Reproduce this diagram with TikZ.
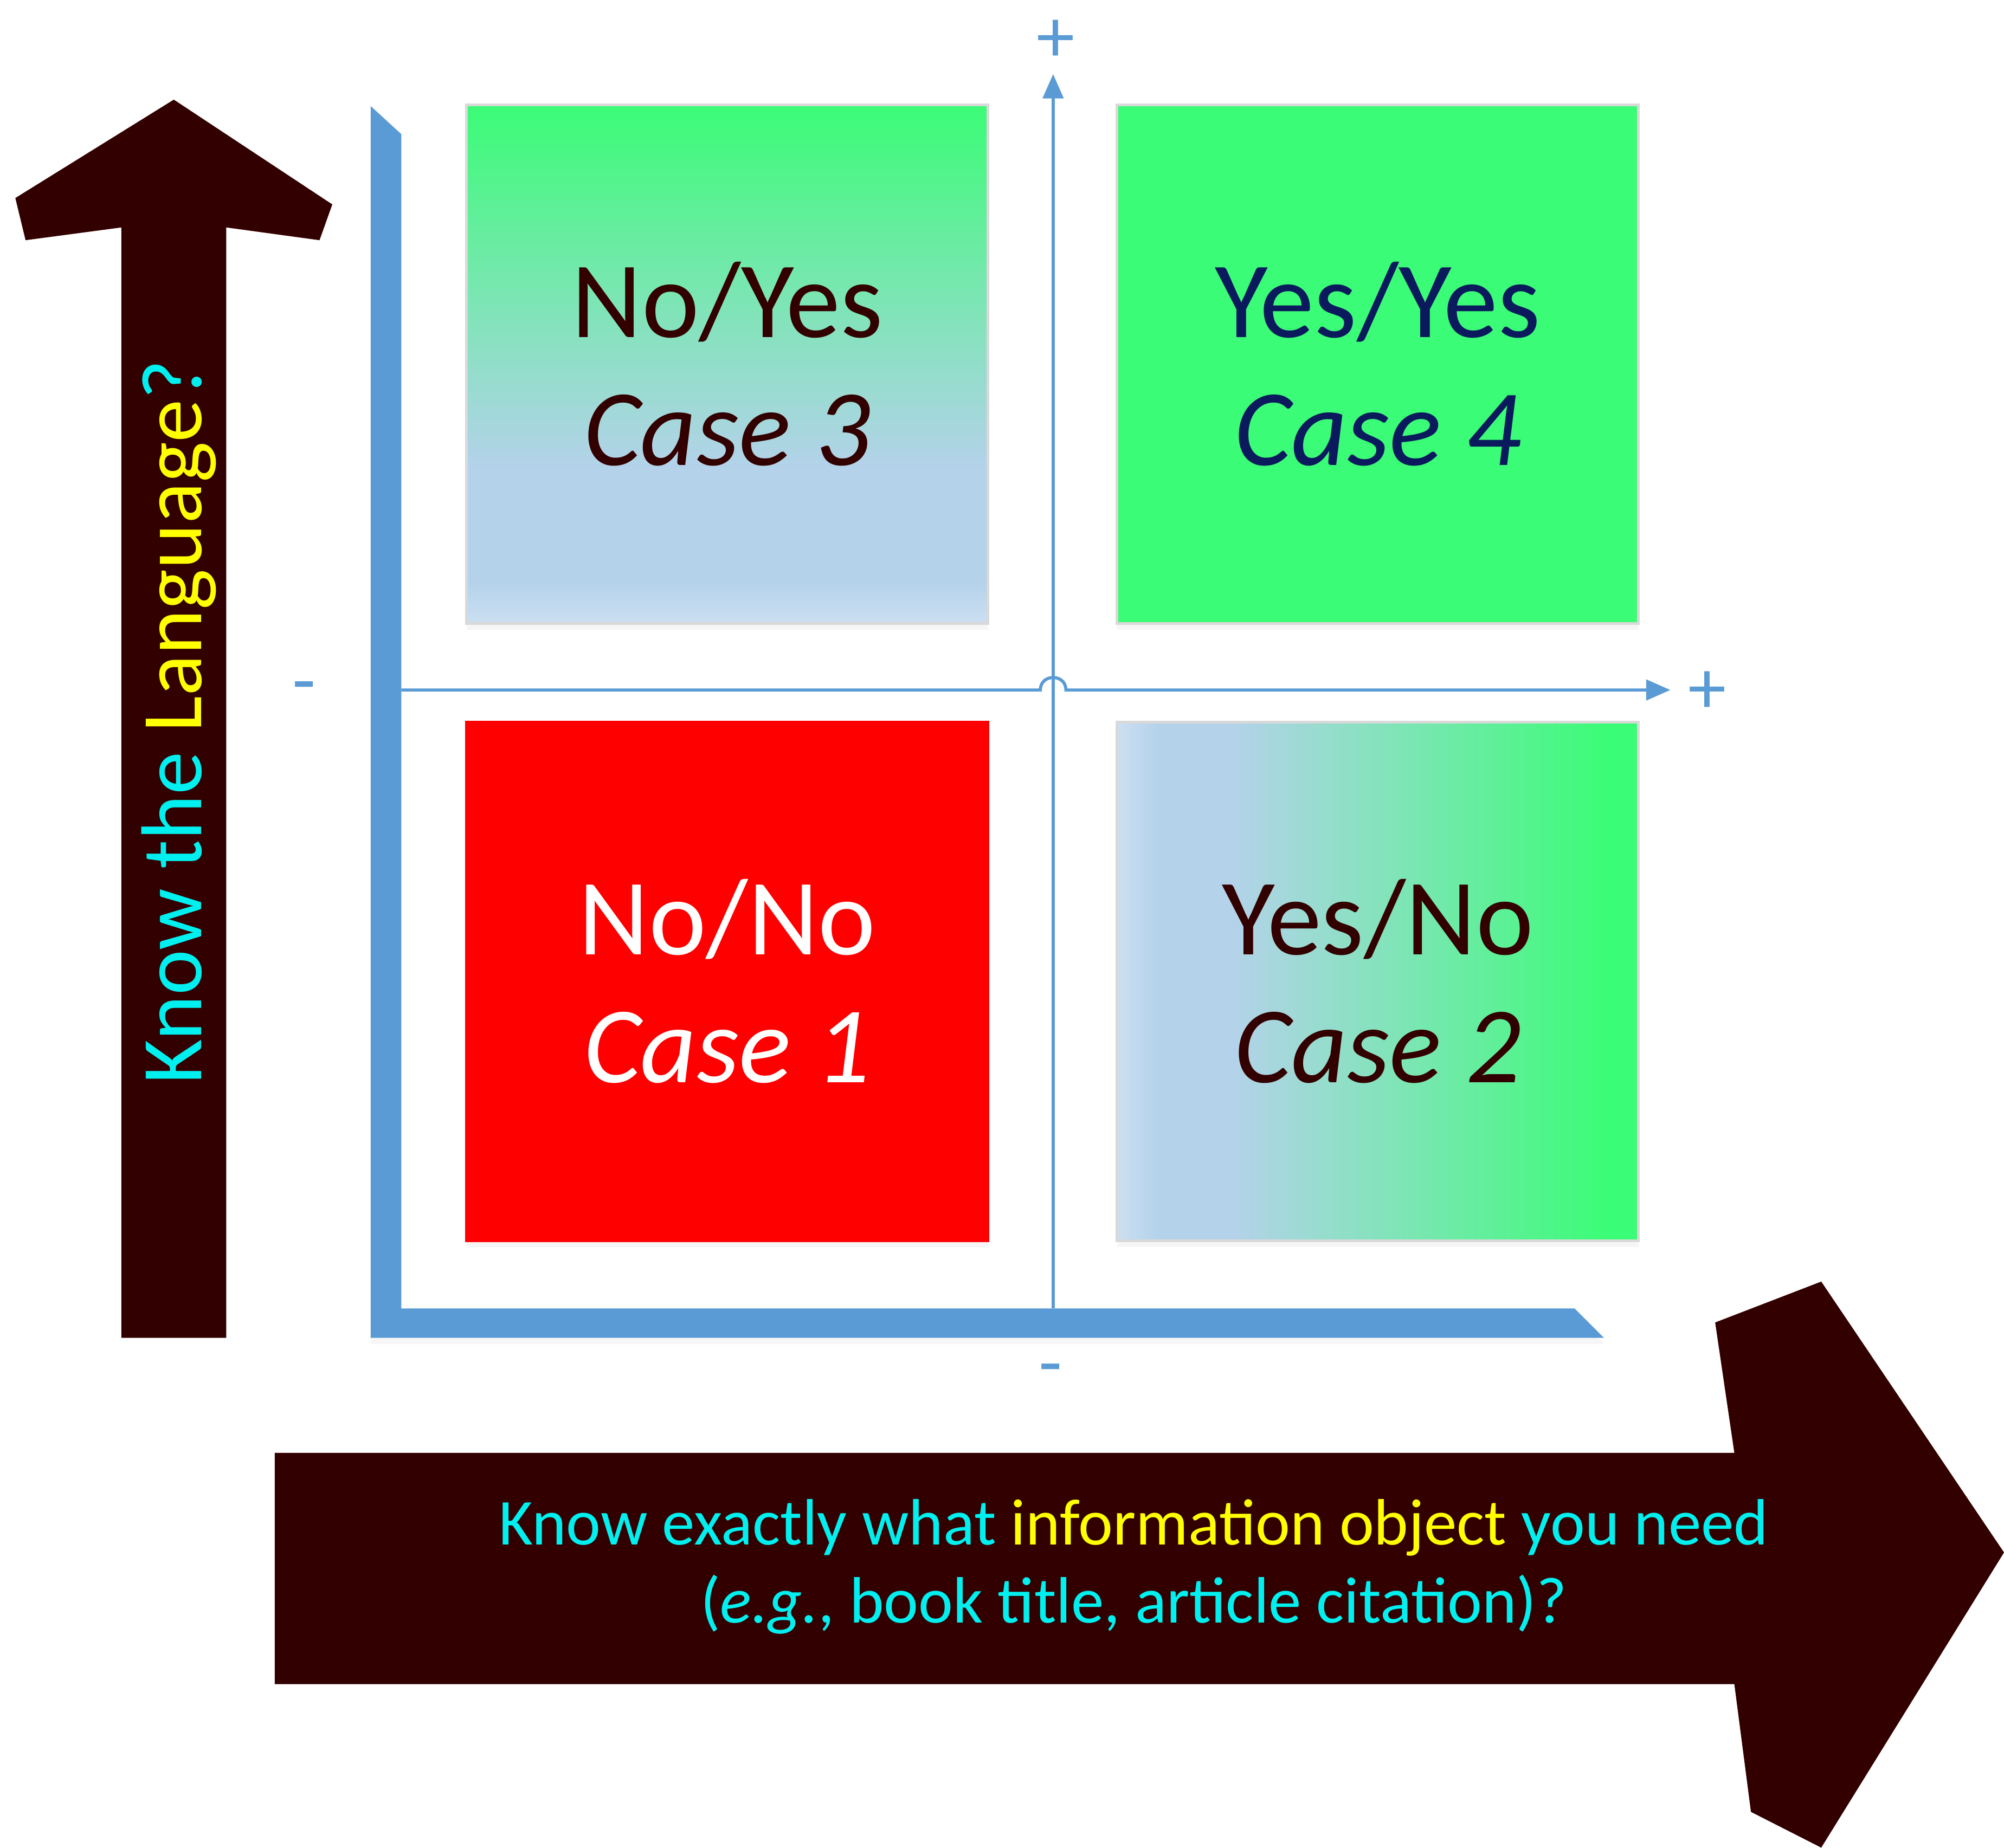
\documentclass[tikz,border=0pt]{standalone}
\usepackage{fontspec}
\setmainfont{Carlito}
\usetikzlibrary{arrows.meta,shadows}
\definecolor{darkmaroon}{HTML}{330000}
\definecolor{axisblue}{HTML}{5B9BD5}
\definecolor{casegreen}{HTML}{3BFC76}
\definecolor{paleblue}{HTML}{B4D2EA}
\definecolor{paleedge}{HTML}{CCDFF1}
\definecolor{darknavy}{HTML}{0A1A5C}
\definecolor{txtcyan}{HTML}{00F0F0}
\definecolor{txtyellow}{HTML}{FFFF00}
\pgfdeclareverticalshading{fadeup}{100bp}{color(0bp)=(paleedge); color(25bp)=(paleedge); color(29bp)=(paleblue); color(40bp)=(paleblue); color(75bp)=(casegreen); color(100bp)=(casegreen)}
\pgfdeclarehorizontalshading{faderight}{100bp}{color(0bp)=(paleedge); color(25bp)=(paleedge); color(29bp)=(paleblue); color(36bp)=(paleblue); color(72bp)=(casegreen); color(100bp)=(casegreen)}
\begin{document}
\begin{tikzpicture}[x=0.1mm, y=-0.1mm,
		casebox/.style={draw=gray!30, line width=0.6pt, minimum width=40.8mm, minimum height=40.6mm, inner sep=0pt, align=center, font=\fontsize{24.2}{28.5}\selectfont, drop shadow={opacity=0.07, shadow xshift=0mm, shadow yshift=-0.5mm}},
		signlabel/.style={text=axisblue, font=\fontsize{17}{17}\selectfont},
		axisline/.style={axisblue, line width=0.7pt, -{Triangle[length=1.9mm, width=1.6mm]}}]
		\useasboundingbox (0,0) rectangle (1568,1446);
		% the two big arrows
		\fill[darkmaroon] (136,78) -- (260,160) -- (250,188) -- (177,178) -- (177,1047) -- (95,1047) -- (95,178) -- (20,188) -- (12,155) -- cycle;
		\fill[darkmaroon] (215,1137) -- (1357,1137) -- (1342,1035) -- (1425,1003) -- (1568,1215) -- (1425,1446) -- (1370,1418) -- (1357,1318) -- (215,1318) -- cycle;
		\node[rotate=90, font=\fontsize{19.2}{22}\selectfont] at (140,565) (lang) {\color{txtcyan}Know the \color{txtyellow}Language\color{txtcyan}?};
		\node[align=center, text=txtcyan, font=\fontsize{14.6}{17.4}\selectfont] at (887,1226) (need) {Know exactly what \color{txtyellow}information object \color{txtcyan}you need\\(\textit{e.g.}, book title, article citation)?};
		% L-shaped frame
		\fill[axisblue, drop shadow={opacity=0.07, shadow xshift=0mm, shadow yshift=-0.5mm}] (290,83) -- (314,105) -- (314,1024) -- (1232,1024) -- (1255,1047) -- (290,1047) -- cycle;
		% axes
		\coordinate (yfoot) at (824,1024);
		\coordinate (ytop) at (824,58);
		\coordinate (xfoot) at (314,540);
		\coordinate (xtop) at (1307,540);
		\draw[axisline] (yfoot) -- (ytop);
		\draw[axisline] (xfoot) -- (814,540) .. controls (814,527) and (834,527) .. (834,540) -- (xtop);
		\node[signlabel] at (826,32) (ytopsign) {+};
		\node[signlabel] at (1336,542) (xtopsign) {+};
		\node[signlabel] at (238,543) (xfootsign) {-};
		\node[signlabel] at (822,1077) (yfootsign) {-};
		% the four cases
		\node[casebox, shade, shading=fadeup, text=darkmaroon] at (569,285) (case3) {No/Yes\\\textit{Case 3}};
		\node[casebox, fill=casegreen, text=darknavy] at (1078,285) (case4) {Yes/Yes\\\textit{Case 4}};
		\node[casebox, fill=red, draw=red, text=white] at (569,768) (case1) {No/No\\\textit{Case 1}};
		\node[casebox, shade, shading=faderight, text=darkmaroon] at (1078,768) (case2) {Yes/No\\\textit{Case 2}};
	\end{tikzpicture}
\end{document}
